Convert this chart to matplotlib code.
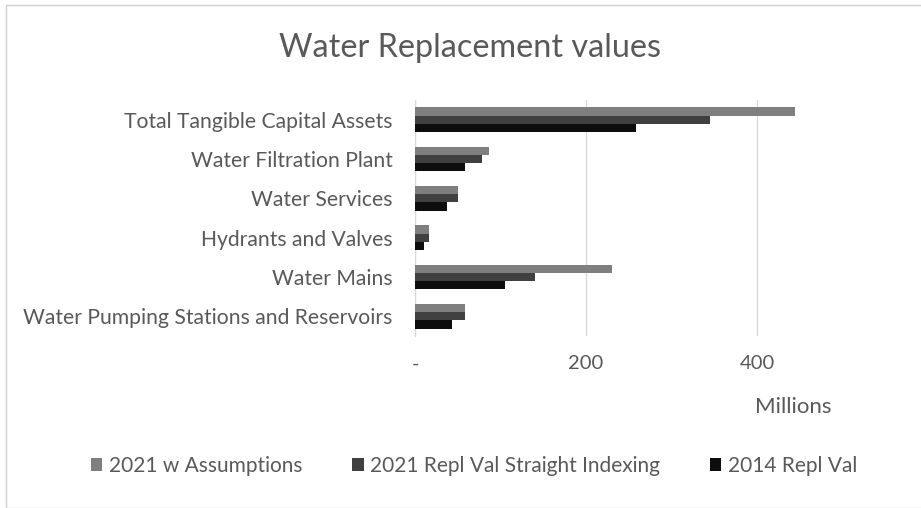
import numpy as np
import matplotlib.pyplot as plt
from matplotlib.patches import Rectangle

plt.rcParams['font.family'] = ['Lato', 'DejaVu Sans']

# categories listed bottom to top, values in millions
categories = ['Water Pumping Stations and Reservoirs', 'Water Mains', 'Hydrants and Valves',
              'Water Services', 'Water Filtration Plant', 'Total Tangible Capital Assets']
w_assumptions = [58, 230, 16, 50, 86, 444]
straight_index = [58, 140, 16, 50, 78, 345]
repl_2014 = [43, 105, 11, 37, 58, 258]

series_names = ['2021 w Assumptions', '2021 Repl Val Straight Indexing', '2014 Repl Val']
series_colors = ['#7f7f7f', '#404040', '#0d0d0d']
text_col = '#595959'

fig = plt.figure(figsize=(9.21, 5.08), dpi=100)
W, H = 921, 508

# light chart border
fig.patches.append(Rectangle((6 / W, 0), 1, 1 - 5 / H, transform=fig.transFigure,
                             fill=False, edgecolor='#d0d0d0', linewidth=1.0))

ax = fig.add_axes([415 / W, 1 - 336 / H, (817 - 415) / W, (336 - 100) / H])

y = np.arange(len(categories))
h = 0.21
for i, (vals, name, col) in enumerate(zip([w_assumptions, straight_index, repl_2014],
                                          series_names, series_colors)):
    ax.barh(y + (1 - i) * h, vals, height=h, color=col, label=name, zorder=3)

ax.set_xlim(0, 470)
ax.set_ylim(-0.5, len(categories) - 0.5)
ax.set_xticks([0, 200, 400])
ax.set_xticklabels(['-', '200', '400'])
ax.set_yticks(y)
ax.set_yticklabels(categories)
ax.tick_params(axis='both', length=0, labelsize=14.5, colors=text_col)
ax.tick_params(axis='y', labelsize=15.2, pad=16)
ax.tick_params(axis='x', pad=14)
ax.grid(axis='x', color='#d9d9d9', linewidth=1, zorder=0)
for s in ['top', 'right', 'bottom']:
    ax.spines[s].set_visible(False)
ax.spines['left'].set_color('#d9d9d9')

fig.text(793 / W, 1 - 407 / H, 'Millions', ha='center', va='center', fontsize=16, color=text_col)
fig.text(470 / W, 1 - 48 / H, 'Water Replacement values', ha='center', va='center',
         fontsize=23.3, color=text_col)

leg = fig.legend(loc='center', bbox_to_anchor=(474 / W, 1 - 466 / H), ncol=3, frameon=False,
                 fontsize=15, handlelength=0.55, handleheight=0.55, handletextpad=0.3,
                 columnspacing=2.4, labelcolor=text_col)

fig.savefig('out.png', dpi=100)
